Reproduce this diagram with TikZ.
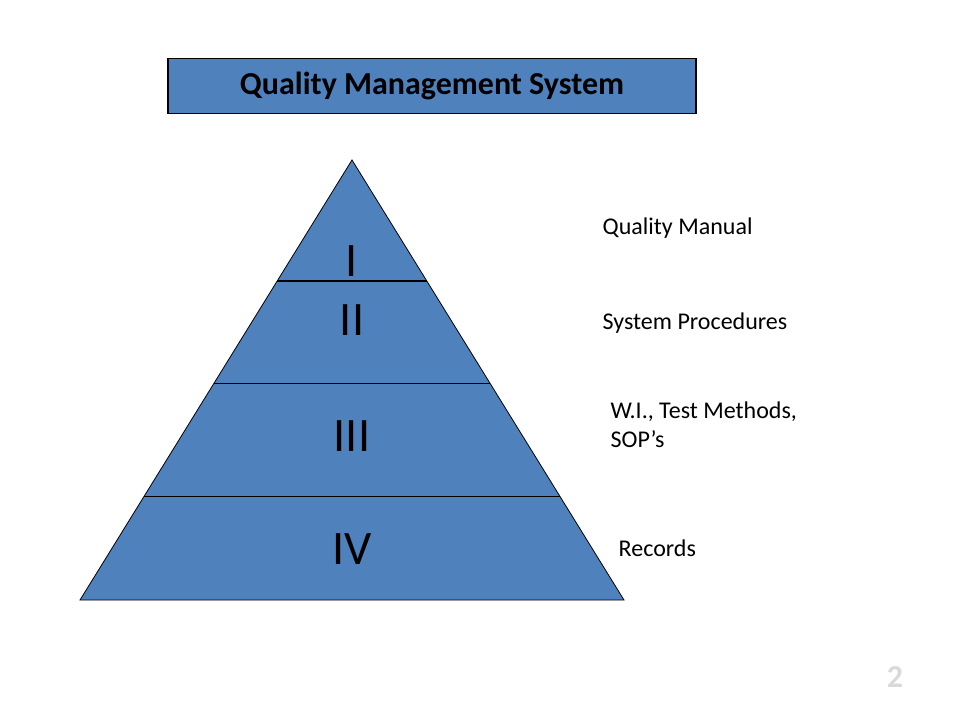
\documentclass[tikz,border=0pt]{standalone}
\usepackage{fontspec}
\setmainfont{Carlito}
\usetikzlibrary{calc}
\definecolor{qmsblue}{RGB}{79,129,189}
\begin{document}
\begin{tikzpicture}[x=0.75pt, y=-0.75pt,
        levelnum/.style={font=\fontsize{36}{40}\selectfont},
        levellabel/.style={anchor=west, align=left, font=\fontsize{18}{22}\selectfont}]
    \useasboundingbox (0,0) rectangle (960,720);
    % title box
    \node[draw, fill=qmsblue, line width=0.8pt, minimum width=396pt, minimum height=41pt,
          font=\fontsize{24}{28}\selectfont\bfseries] (title) at (432,86) {Quality Management System};
    % pyramid
    \coordinate (apex) at (352,160);
    \coordinate (bl) at (80,600);
    \coordinate (br) at (624,600);
    \draw[fill=qmsblue, line width=0.6pt] (apex) -- (bl) -- (br) -- cycle;
    \draw[line width=0.8pt] ($(apex)!0.275!(bl)$) -- ($(apex)!0.275!(br)$);
    \draw[line width=0.8pt] ($(apex)!0.509!(bl)$) -- ($(apex)!0.509!(br)$);
    \draw[line width=0.8pt] ($(apex)!0.764!(bl)$) -- ($(apex)!0.764!(br)$);
    \node[levelnum] (one)   at (352,261) {I};
    \node[levelnum] (two)   at (352,320) {II};
    \node[levelnum] (three) at (352,436) {III};
    \node[levelnum] (four)  at (352,549) {IV};
    % labels
    \node[levellabel] (manual)  at (598,228) {Quality Manual};
    \node[levellabel] (sysproc) at (598,323) {System Procedures};
    \node[levellabel] (wi)      at (606,425) {W.I., Test Methods,\\SOP’s};
    \node[levellabel] (records) at (614,548) {Records};
    % page number
    \node[text=gray!30, font=\fontsize{24}{28}\selectfont\bfseries] (page) at (895,677) {2};
\end{tikzpicture}
\end{document}
